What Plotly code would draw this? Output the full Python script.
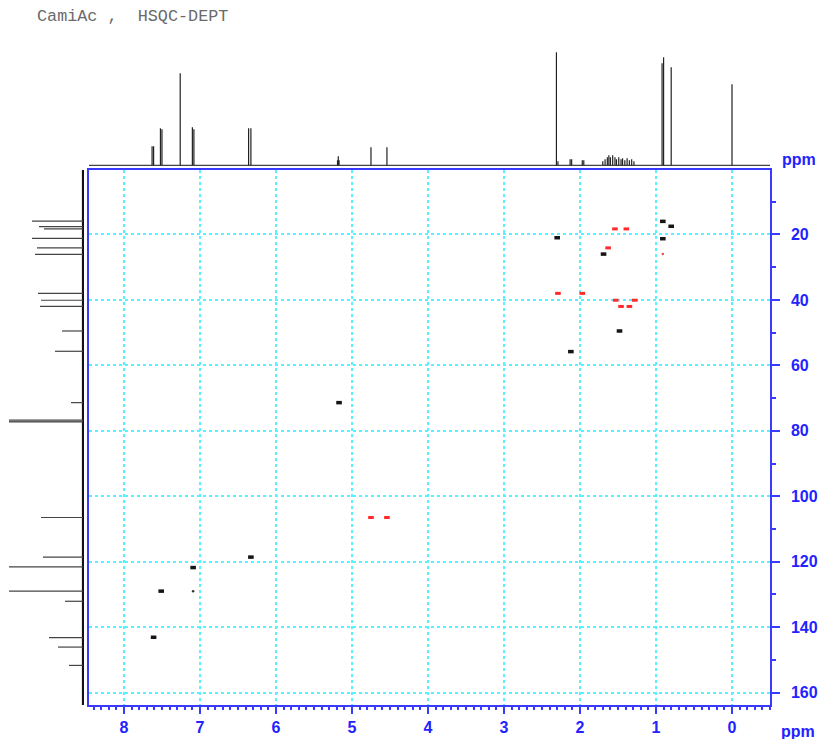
import plotly.graph_objects as go

W, H = 819, 739

# 1H projection (top): peak positions (ppm) and heights (arb. units)
h_ppm = [7.63, 7.61, 7.52, 7.50, 7.26, 7.10, 7.08, 6.36, 6.33,
         5.19, 5.18, 5.17, 4.75, 4.54, 2.31, 2.29, 2.13, 2.11, 1.97, 1.95,
         1.70, 1.67, 1.64, 1.62, 1.60, 1.57, 1.54, 1.52, 1.49, 1.46, 1.44,
         1.41, 1.38, 1.35, 1.32, 1.29, 0.92, 0.90, 0.80, 0.00]
h_int = [19, 19, 37, 36, 92, 38, 36, 37, 37,
         5, 9, 5, 18, 18, 113, 4, 6, 6, 5, 5,
         4, 6, 8, 10, 8, 10, 8, 6, 8, 6, 7,
         5, 7, 5, 6, 4, 102, 108, 98, 81]

# 13C projection (left): peak positions (ppm) and intensities
c_ppm = [15.9, 17.6, 18.3, 21.2, 24.1, 26.1, 38.0, 40.1, 42.0, 49.5, 55.7,
         71.4, 76.7, 77.0, 77.3, 106.5, 118.6, 121.6, 129.0, 132.1, 143.2,
         146.1, 151.7]
c_int = [51, 44, 39, 51, 46, 48, 45, 42, 43, 21, 28,
         12, 74, 74, 74, 42, 40, 74, 74, 18, 34,
         25, 14]

# HSQC-DEPT correlations (1H ppm, 13C ppm)
pos_h = [0.91, 0.80, 2.30, 0.91, 1.69, 1.48, 2.12, 5.17, 6.33, 7.09, 7.51, 7.61]
pos_c = [16.0, 17.5, 21.0, 21.3, 26.0, 49.5, 55.8, 71.4, 118.6, 121.8, 129.0, 143.1]
pos_weak_h = [7.09]
pos_weak_c = [129.0]
neg_h = [1.54, 1.39, 1.63, 2.29, 1.97, 1.53, 1.28, 1.46, 1.35, 4.75, 4.54]
neg_c = [18.3, 18.3, 24.1, 38.0, 38.0, 40.1, 40.1, 42.0, 42.0, 106.5, 106.5]
neg_weak_h = [0.91]
neg_weak_c = [26.0]

title_text = "CamiAc ,  HSQC-DEPT"
unit_label = "ppm"

X_RANGE = [8.46, -0.5]
Y_RANGE = [163.8, 0.3]
BLUE = "#2323ff"
LINE_BLUE = "#3a3aff"
GRID = "#55f2ff"
TICK_FONT = dict(family="Liberation Sans", size=16, color=BLUE, weight="bold")


def sticks(pos, val):
    xs, ys = [], []
    for p, v in zip(pos, val):
        xs += [p, p, None]
        ys += [0, v, None]
    return xs, ys


fig = go.Figure()

# top 1H trace: baseline + sticks
hx, hy = sticks(h_ppm, h_int)
fig.add_trace(go.Scatter(x=[X_RANGE[0], X_RANGE[1]], y=[0, 0], mode="lines",
                         line=dict(color="#444", width=1.2),
                         xaxis="x2", yaxis="y2", hoverinfo="skip"))
fig.add_trace(go.Scatter(x=hx, y=hy, mode="lines",
                         line=dict(color="#222", width=1.2),
                         xaxis="x2", yaxis="y2", hoverinfo="skip"))

# left 13C trace: baseline + sticks (intensity on x, ppm on y)
cy, cx = sticks(c_ppm, c_int)
fig.add_trace(go.Scatter(x=[0, 0], y=[Y_RANGE[1] - 0.3, Y_RANGE[0]], mode="lines",
                         line=dict(color="#111", width=2.2),
                         xaxis="x3", yaxis="y3", hoverinfo="skip"))
fig.add_trace(go.Scatter(x=cx, y=cy, mode="lines",
                         line=dict(color="#444", width=1.2),
                         xaxis="x3", yaxis="y3", hoverinfo="skip"))

# cross peaks
fig.add_trace(go.Scatter(x=pos_h, y=pos_c, mode="markers",
                         marker=dict(symbol="line-ew", size=4,
                                     line=dict(color="#151515", width=3.5)),
                         xaxis="x", yaxis="y"))
fig.add_trace(go.Scatter(x=pos_weak_h, y=pos_weak_c, mode="markers",
                         marker=dict(symbol="circle", size=2.5, color="#333"),
                         xaxis="x", yaxis="y"))
fig.add_trace(go.Scatter(x=neg_h, y=neg_c, mode="markers",
                         marker=dict(symbol="line-ew", size=4,
                                     line=dict(color="#ff2a2a", width=3)),
                         xaxis="x", yaxis="y"))
fig.add_trace(go.Scatter(x=neg_weak_h, y=neg_weak_c, mode="markers",
                         marker=dict(symbol="circle", size=2.5, color="#e05050"),
                         xaxis="x", yaxis="y"))

main_xdom = [89 / W, 770 / W]
main_ydom = [1 - 705 / H, 1 - 170 / H]

fig.update_layout(
    width=W, height=H,
    margin=dict(l=0, r=0, t=0, b=0, autoexpand=False),
    paper_bgcolor="white", plot_bgcolor="white",
    showlegend=False,
    xaxis=dict(domain=main_xdom, range=X_RANGE, anchor="y", automargin=False,
               tickmode="linear", tick0=0, dtick=1,
               ticks="outside", ticklen=7, tickwidth=1.5, tickcolor=LINE_BLUE,
               tickfont=TICK_FONT,
               minor=dict(dtick=0.1, tick0=0, ticks="outside", ticklen=3,
                          tickcolor=LINE_BLUE, showgrid=False),
               showline=True, linecolor=LINE_BLUE, linewidth=1.5, mirror=True,
               showgrid=True, gridcolor=GRID, griddash="dot", gridwidth=1.5,
               zeroline=False),
    yaxis=dict(domain=main_ydom, range=Y_RANGE, anchor="x", side="right",
               automargin=False,
               tickmode="linear", tick0=0, dtick=20,
               ticks="outside", ticklen=8, tickwidth=1.5, tickcolor=LINE_BLUE,
               tickfont=TICK_FONT, ticklabelstandoff=8,
               minor=dict(dtick=10, tick0=0, ticks="outside", ticklen=4,
                          tickcolor=LINE_BLUE, showgrid=False),
               showline=True, linecolor=LINE_BLUE, linewidth=1.5, mirror=True,
               showgrid=True, gridcolor=GRID, griddash="dot", gridwidth=1.5,
               zeroline=False),
    xaxis2=dict(domain=main_xdom, range=X_RANGE, anchor="y2", visible=False,
                automargin=False),
    yaxis2=dict(domain=[1 - 166 / H, 1 - 48 / H], range=[-0.7, 117.3],
                anchor="x2", visible=False, automargin=False),
    xaxis3=dict(domain=[0, 84 / W], range=[83, -1], anchor="y3", visible=False,
                automargin=False),
    yaxis3=dict(domain=main_ydom, range=Y_RANGE, anchor="x3", visible=False,
                automargin=False),
    annotations=[
        dict(text=title_text, x=35 / W, y=1 - 17 / H, xref="paper", yref="paper",
             xanchor="left", yanchor="middle", showarrow=False,
             font=dict(family="Liberation Mono", size=16.8, color="#6a6a6a")),
        dict(text=unit_label, x=817 / W, y=1 - 731 / H, xref="paper", yref="paper",
             xanchor="right", yanchor="middle", showarrow=False,
             font=TICK_FONT),
        dict(text=unit_label, x=818 / W, y=1 - 159 / H, xref="paper", yref="paper",
             xanchor="right", yanchor="middle", showarrow=False,
             font=TICK_FONT),
    ],
)

fig.write_html("out.html")
